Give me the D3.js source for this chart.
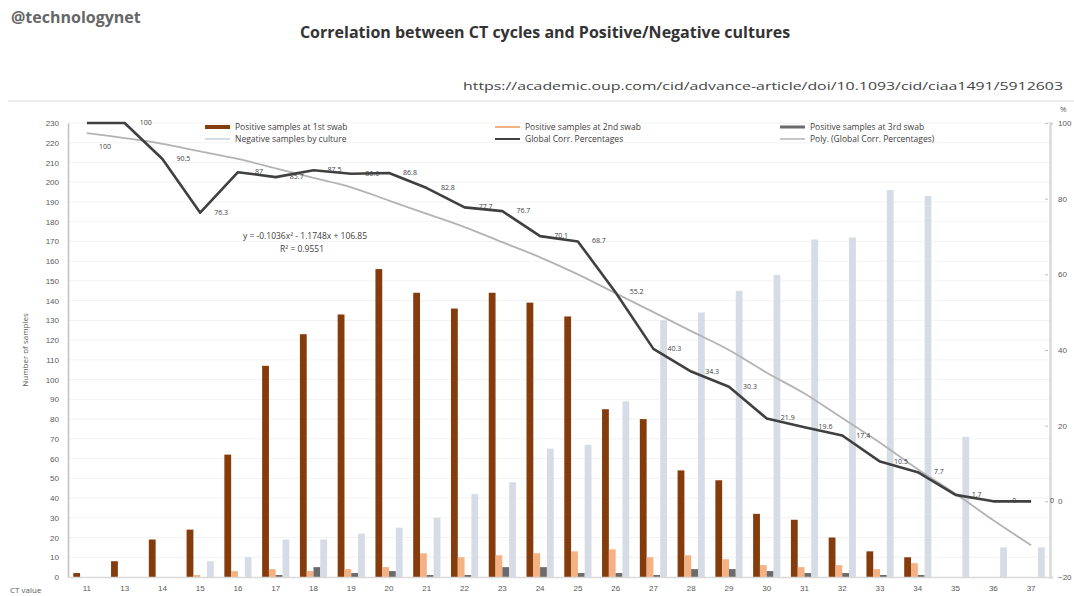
<!DOCTYPE html>
<html>
<head>
<meta charset="utf-8">
<script src="https://cdnjs.cloudflare.com/ajax/libs/d3/7.8.5/d3.min.js"></script>
<style>
	body{margin:0;background:#fff;}
	svg{display:block;font-family:"Open Sans","Liberation Sans",sans-serif;}
</style>
</head>
<body>
<div id="container"></div>
<script>
var ctValues = ['11','13','14','15','16','17','18','19','20','21','22','23','24','25','26','27','28','29','30','31','32','33','34','35','36','37'];

var pos1st = [2,8,19,24,62,107,123,133,156,144,136,144,139,132,85,80,54,49,32,29,20,13,10,0,0,0];
var pos2nd = [0,0,0,1,3,4,3,4,5,12,10,11,12,13,14,10,11,9,6,5,6,4,7,0,0,0];
var pos3rd = [0,0,0,0,0,1,5,2,3,1,1,5,5,2,2,1,4,4,3,2,2,1,1,0,0,0];
var negCulture = [0,0,0,8,10,19,19,22,25,30,42,48,65,67,89,130,134,145,153,171,172,196,193,71,15,15];

var globalCorr = [100,100,90.5,76.3,87,85.7,87.5,86.6,86.8,82.8,77.7,76.7,70.1,68.7,55.2,40.3,34.3,30.3,21.9,19.6,17.4,10.5,7.7,1.7,0,0];
var polyTrend = [97.3,96,94.5,92.5,90.5,88,85.5,83,79.5,76,72.5,68.5,64.5,60,55,50,45,40,34,28.5,22,15.5,8.5,2,-5,-11.6];

var leftTicks = d3.range(0,231,10);
var rightTicks = [-20,0,20,40,60,80,100];

var seriesNames = ['Positive samples at 1st swab','Positive samples at 2nd swab','Positive samples at 3rd swab','Negative samples by culture','Global Corr. Percentages','Poly. (Global Corr. Percentages)'];

var init = function(){

	return {

		w:1074,
		h:596,

		colors:{
			'p1':'#843c0c',
			'p2':'#f4b183',
			'p3':'#6b6b6b',
			'neg':'#d6dce5',
			'line':'#404040',
			'poly':'#b3b3b3'
		},

		generate:function(){
			var svg = d3.select('#container').append('svg')
				.attr('width',self.w)
				.attr('height',self.h);

			svg.append('rect')
				.attr('width',self.w)
				.attr('height',self.h)
				.attr('fill','#fff');

			//header
			svg.append('text')
				.attr('x',11).attr('y',23)
				.style('font-size','16px').style('font-weight','bold')
				.attr('fill','#666')
				.text('@technologynet');
			svg.append('text')
				.attr('x',545).attr('y',38)
				.attr('text-anchor','middle')
				.style('font-size','16px').style('font-weight','bold')
				.attr('fill','#333')
				.text('Correlation between CT cycles and Positive/Negative cultures');
			svg.append('text')
				.attr('x',1063).attr('y',90)
				.attr('text-anchor','end')
				.attr('textLength',600).attr('lengthAdjust','spacingAndGlyphs')
				.style('font-size','11px')
				.attr('fill','#444')
				.text('https://academic.oup.com/cid/advance-article/doi/10.1093/cid/ciaa1491/5912603');
			svg.append('line')
				.attr('x1',8).attr('x2',1074).attr('y1',101).attr('y2',101)
				.attr('stroke','#eeeeee').attr('stroke-width',2);

			var x0 = d3.scaleBand()
				.domain(ctValues)
				.range([68,1050])
				.paddingInner(0.28)
				.paddingOuter(0.14);
			var keys = ['p1','p2','p3','neg'];
			var x1 = d3.scaleBand()
				.domain(keys)
				.range([0,x0.bandwidth()]);
			var yL = d3.scaleLinear().domain([0,230]).range([577,123]);
			var yR = d3.scaleLinear().domain([-20,100]).range([577,123]);

			//gridlines
			svg.append('g').selectAll('line')
				.data(leftTicks.slice(1))
				.enter().append('line')
				.attr('x1',68).attr('x2',1050)
				.attr('y1',function(d){ return yL(d); })
				.attr('y2',function(d){ return yL(d); })
				.attr('stroke','#f2f2f2');

			//bars
			var rows = ctValues.map(function(c,i){
				return {ct:c,p1:pos1st[i],p2:pos2nd[i],p3:pos3rd[i],neg:negCulture[i]};
			});
			var groups = svg.append('g').selectAll('g.grp')
				.data(rows)
				.enter().append('g')
				.classed('grp',true)
				.attr('transform',function(d){ return 'translate(' +x0(d.ct) +',0)'; });
			groups.selectAll('rect')
				.data(function(d){ return keys.map(function(k){ return {k:k,v:d[k]}; }); })
				.enter().append('rect')
				.attr('x',function(d){ return x1(d.k); })
				.attr('width',x1.bandwidth())
				.attr('y',function(d){ return yL(d.v); })
				.attr('height',function(d){ return yL(0) -yL(d.v); })
				.attr('fill',function(d){ return self.colors[d.k]; });

			//axes
			var axL = svg.append('g')
				.attr('transform','translate(68,0)')
				.call(d3.axisLeft(yL).tickValues(leftTicks).tickSize(0).tickPadding(9));
			axL.select('.domain').attr('stroke','#bfbfbf').attr('stroke-width',1.5);
			axL.selectAll('text').style('font-size','8px').attr('fill','#595959');

			var axR = svg.append('g')
				.attr('transform','translate(1050,0)')
				.call(d3.axisRight(yR).tickValues(rightTicks).tickSize(3).tickPadding(5));
			axR.select('.domain').attr('stroke','#d9d9d9').attr('stroke-width',2.5);
			axR.selectAll('.tick line').attr('stroke','#bfbfbf').attr('transform','translate(-5,0)');
			axR.selectAll('text').style('font-size','8px').attr('fill','#595959');
			svg.append('text')
				.attr('x',1060).attr('y',112)
				.style('font-size','8px').attr('fill','#595959')
				.text('%');

			var axB = svg.append('g')
				.attr('transform','translate(0,577)')
				.call(d3.axisBottom(x0).tickSize(0).tickPadding(8));
			axB.select('.domain').attr('stroke','#d9d9d9').attr('stroke-width',1.5);
			axB.selectAll('text').style('font-size','8px').attr('fill','#595959');
			svg.append('text')
				.attr('x',10).attr('y',593)
				.style('font-size','8px').attr('fill','#595959')
				.text('CT value');

			svg.append('text')
				.attr('transform','translate(28,350)rotate(-90)')
				.attr('text-anchor','middle')
				.style('font-size','8px').attr('fill','#595959')
				.text('Number of samples');

			//lines
			var cx = function(i){ return x0(ctValues[i]) +x0.bandwidth()/2; };
			var line = d3.line()
				.x(function(d,i){ return cx(i); })
				.y(function(d){ return yR(d); });
			svg.append('path')
				.datum(polyTrend)
				.attr('d',line.curve(d3.curveMonotoneX))
				.attr('fill','none')
				.attr('stroke',self.colors.poly)
				.attr('stroke-width',1.8);
			svg.append('path')
				.datum(globalCorr)
				.attr('d',line.curve(d3.curveLinear))
				.attr('fill','none')
				.attr('stroke',self.colors.line)
				.attr('stroke-width',2.6)
				.attr('stroke-linejoin','round');

			svg.append('g').selectAll('text')
				.data(globalCorr)
				.enter().append('text')
				.attr('x',function(d,i){ return i === 0 ? cx(i) +18 : cx(i) +21; })
				.attr('y',function(d,i){ return i === 0 ? yR(d) +26 : yR(d) +2; })
				.attr('text-anchor','middle')
				.style('font-size','7px')
				.attr('fill','#404040')
				.text(function(d){ return d; });

			//trend equation
			svg.append('text')
				.attr('x',305).attr('y',239)
				.attr('text-anchor','middle')
				.style('font-size','8.5px').attr('fill','#404040')
				.text('y = -0.1036x² - 1.1748x + 106.85');
			svg.append('text')
				.attr('x',302).attr('y',252)
				.attr('text-anchor','middle')
				.style('font-size','8.5px').attr('fill','#404040')
				.text('R² = 0.9551');

			//legend
			var legendKeys = ['p1','p2','p3','neg','line','poly'];
			var legendW = {'p1':4,'p2':2,'p3':3,'neg':2,'line':2,'poly':1.5};
			var colX = [205,495,780];
			var lg = svg.append('g').selectAll('g')
				.data(seriesNames)
				.enter().append('g')
				.attr('transform',function(d,i){
					var c = i < 3 ? i : i -3;
					var r = i < 3 ? 0 : 1;
					return 'translate(' +colX[c] +',' +(127 +r*12) +')';
				});
			lg.append('line')
				.attr('x1',0).attr('x2',25)
				.attr('stroke',function(d,i){ return self.colors[legendKeys[i]]; })
				.attr('stroke-width',function(d,i){ return legendW[legendKeys[i]]; });
			lg.append('text')
				.attr('x',30).attr('y',3)
				.style('font-size','8.5px').attr('fill','#404040')
				.text(function(d){ return d; });
		}
	}
}

var self = init();
self.generate();
</script>
</body>
</html>
